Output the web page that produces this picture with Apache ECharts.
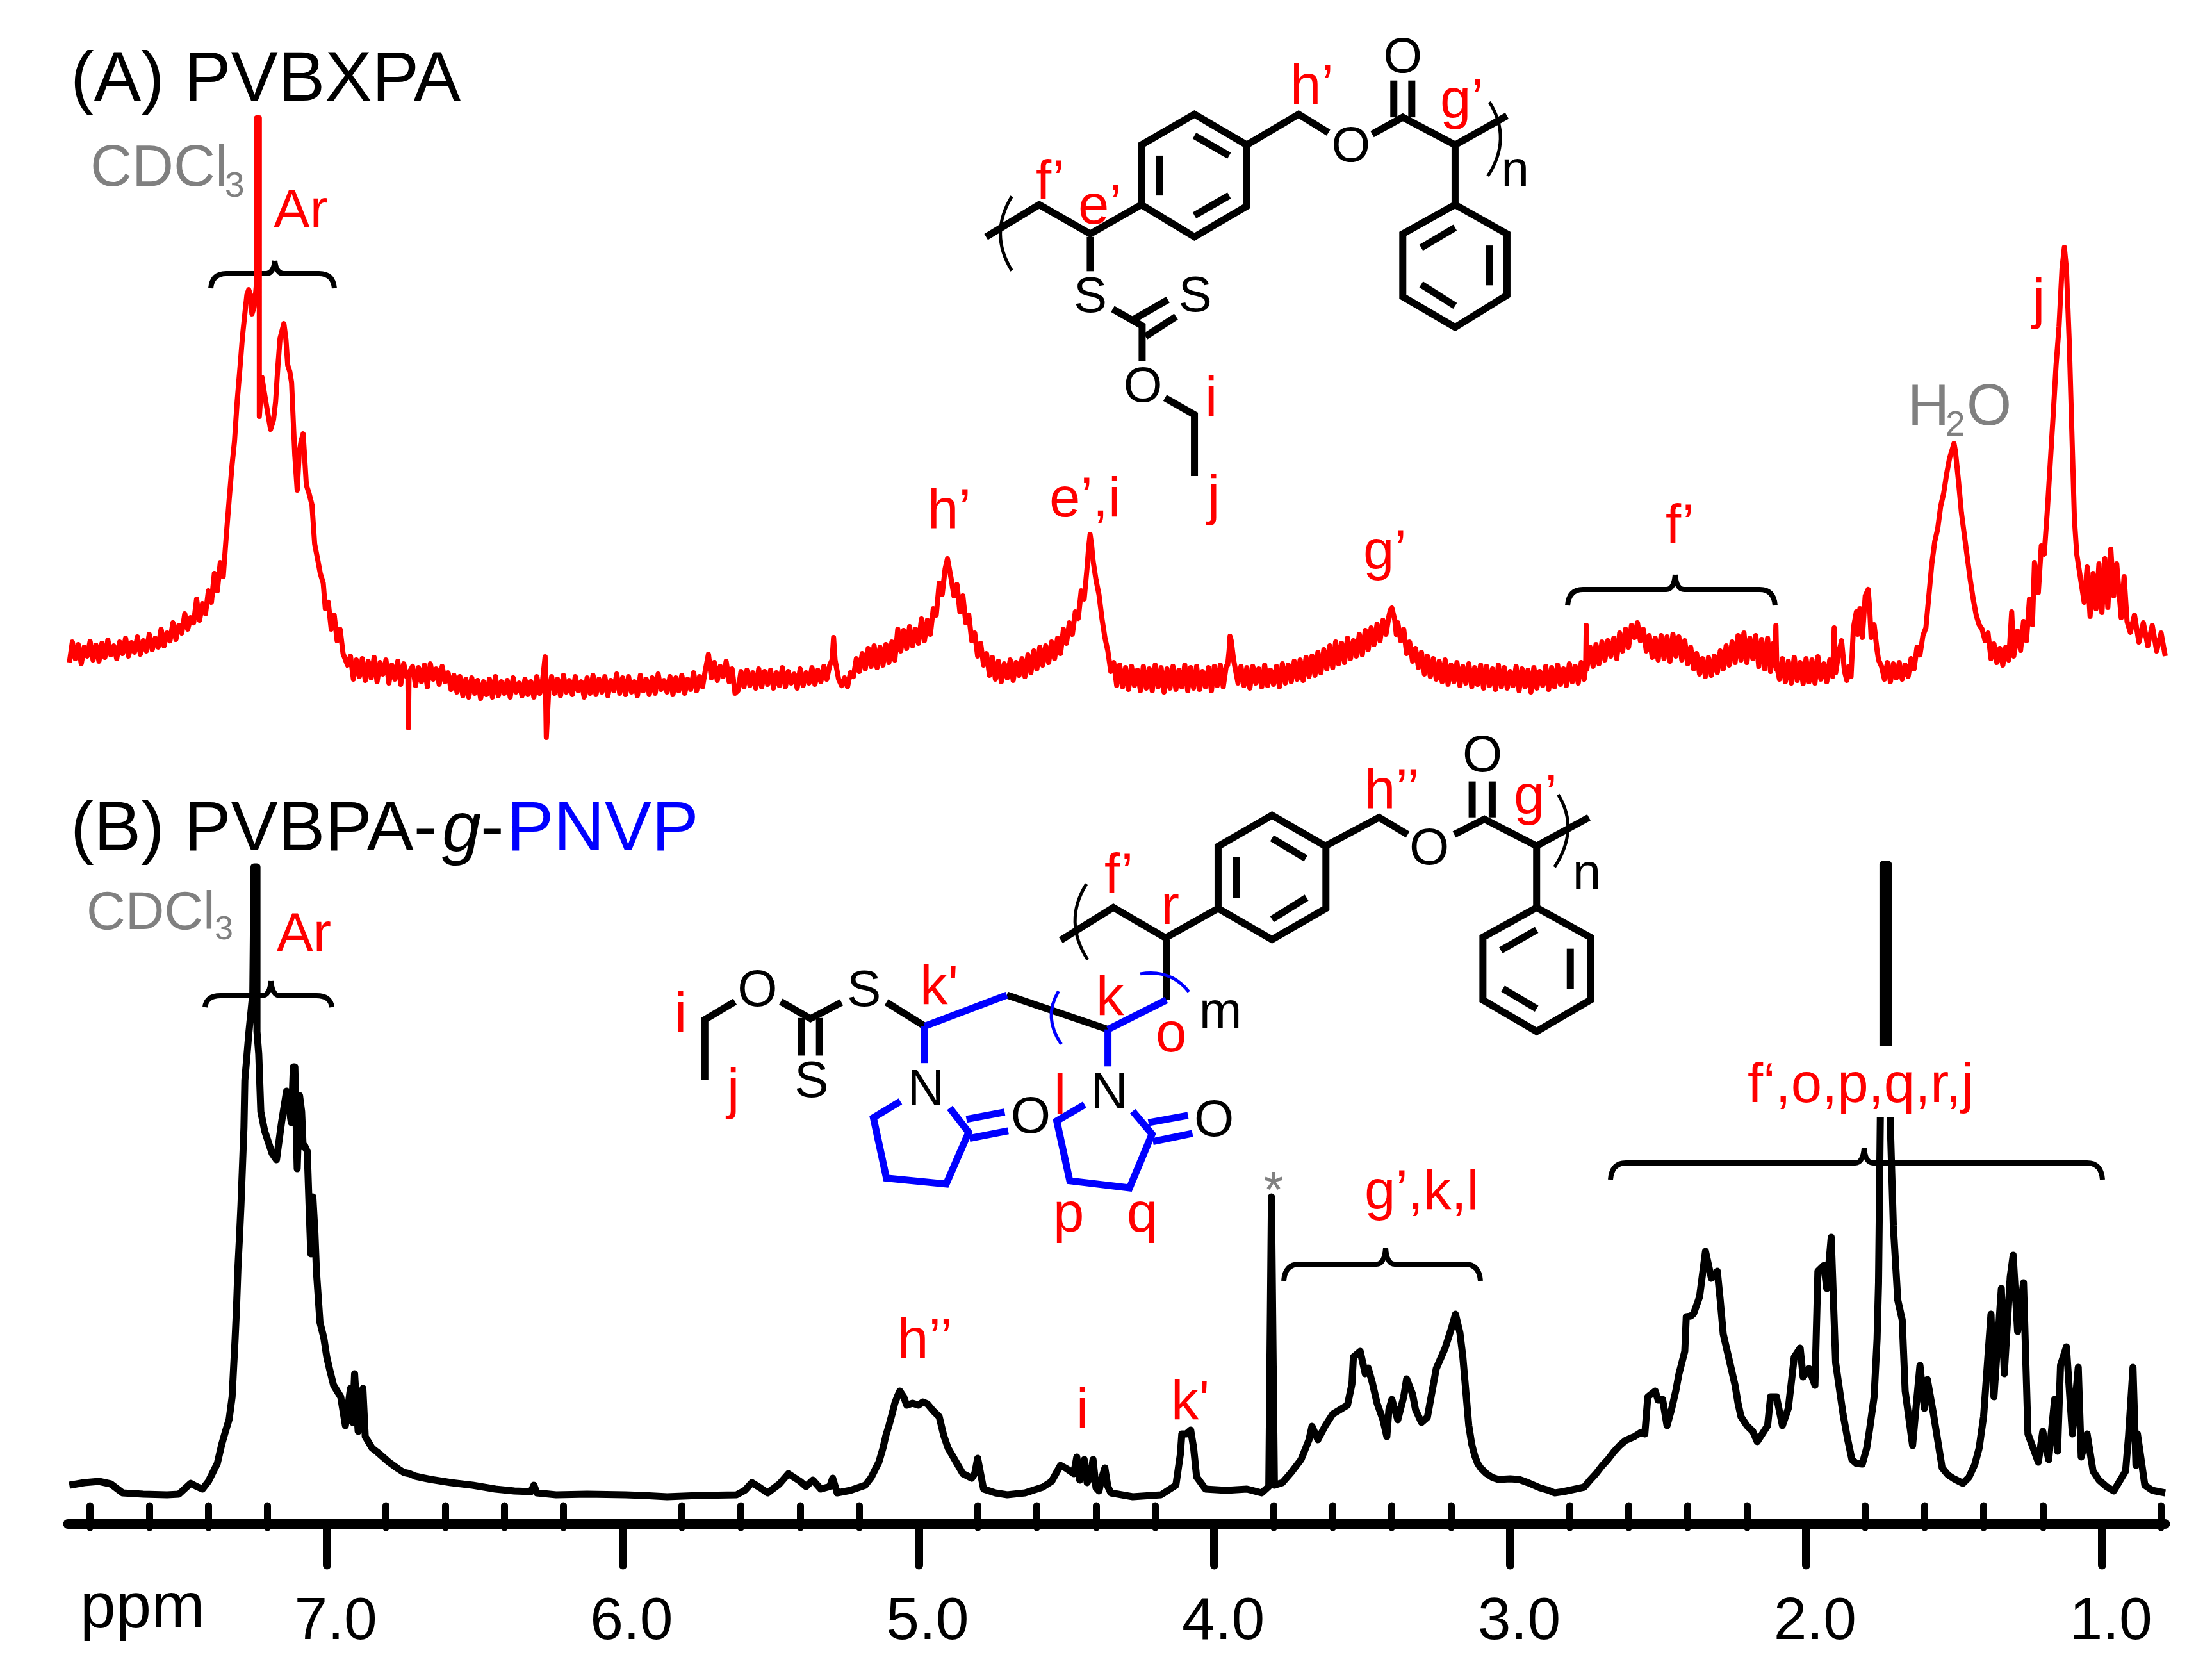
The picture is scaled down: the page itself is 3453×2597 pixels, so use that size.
<!DOCTYPE html>
<html><head><meta charset="utf-8">
<style>html,body{margin:0;padding:0;background:#fff}#c{width:3453px;height:2597px}</style>
<script src="https://cdn.jsdelivr.net/npm/echarts@6/dist/echarts.min.js"></script>
</head><body><div id="c"></div>
<script>
// ---------- data ----------
// noisy stretches of spectrum A: intensities every 0.01 ppm, starting from the named shift
const noiseLeftStart = 7.87;
const noiseLeft = [66,98,72,94,64,90,76,99,70,93,68,96,74,101,78,92,72,98,80,104,76,97,82,106,79,100,84,110,86,104,90,118,92,112,100,128,102,124,112,142,118,136,128,165,132,158,142];
const noiseBase1Start = 6.93;
const noiseBase1 = [62,76,40,70,44,72,38,68,42,74,36,66,48,70,34,62,40,68,32,64,44];
const noiseBase2Start = 6.71;
const noiseBase2 = [60,30,58,36,62,28,64,40,56,32,60,36,50,24,46,20,44,14,40,12,42,18,38,10,36,16,40,12,44,14,36,18,38,12,42,20,34,14,40,16,36,12,44,18];
const noiseBase3Start = 6.24;
const noiseBase3 = [44,18,40,14,46,20,38,16,44,22,36,12,42,18,46,16,40,20,44,14,38,22,48,18,42,16,44,20,36,14,46,22,40,16,42,18,48,24,38,20,44,16,42,22,46,18,40,24,50,22,44,28,55];
const noiseBase4Start = 5.70;
const noiseBase4 = [42,66,38,60,44,68,36,56,18,22,52,28,54,30,50,26,56,28,52,32,54,26,50,30,58,28,52,34,48,26,56,30,50,34,58,32,54,36,60,40,62];
const noiseBase5Start = 5.27;
const noiseBase5 = [40,30,42,28,50,44,72,52,80,56,88,60,92,58,90,62,94,66,98,70];
const noiseMid1Start = 4.74;
const noiseMid1 = [40,68,36,64,42,70,38,66,46,72,44,78,50,84,56,90,62,92,66,98,72,104,80,118,96,128];
const noiseMid2Start = 4.32;
const noiseMid2 = [62,28,58,24,60,30,54,22,60,26,56,22,62,28,58,20,56,26,60,24,54,28,62,22,58,26,60,24,52,28,58,22,60,30,62,28,60];
const noiseMid3Start = 3.91;
const noiseMid3 = [60,30,58,26,60,34,56,28,62,30,54,32,60,28,64,34,62,36,68,40,70,38,74,44,76,46,82];
const noiseMid4Start = 3.64;
const noiseMid4 = [50,86,56,92,58,98,64,96,66,104,72,100,76,110,78,116,86,120,94,126,100,132,110];
const noiseMid5Start = 3.31;
const noiseMid5 = [58,82,48,76,44,72,40,68,36,70,32,62,36,66,30,60,34,64,28,58,32,62,26,60,30,56,24,62,28,58,26,52,30,60,22,56,28,54,20,58,26,52,30,60,24,58,28,62,32,56,30,64,36,60,34,66,40];
const noiseCH2Start = 2.73;
const noiseCH2 = [90,60,94,64,98,70,100,76,104,72,112,84,118,90,124,105,128,100,118,84,108,74,104,70,108,72,106,68,110,76,106,70,100,64,90,56,80,48,72,44,74,46,76,50,84,56,92,62,98,66,108,70,112,66,104,72,108,60,102,56,104,52,96,56];
const noiseRightStart = 2.09;
const noiseRight = [40,72,36,68,34,74,38,66,33,72,36,70,34,75,40,64,36,70,44];

// peaks of spectrum A: [ppm, intensity]
const peakAr = [[7.40,178],[7.39,160],[7.38,205],[7.37,178],[7.36,222],[7.35,200],[7.34,262],[7.33,320],[7.32,375],[7.312,411],[7.303,473],[7.292,534],[7.285,575],[7.277,610],[7.27,640],[7.264,648],[7.258,640],[7.253,610],[7.246,620],[7.24,645],[7.237,660],[7.237,916],[7.228,916],[7.228,450],[7.219,511],[7.212,490],[7.206,473],[7.19,430],[7.18,445],[7.173,473],[7.165,530],[7.158,572],[7.145,595],[7.138,570],[7.132,530],[7.125,520],[7.119,503],[7.113,440],[7.108,389],[7.10,335],[7.093,395],[7.087,411],[7.08,423],[7.074,380],[7.069,343],[7.06,330],[7.05,312],[7.041,251],[7.03,225],[7.022,205],[7.012,190],[7.005,150],[6.995,160],[6.985,118],[6.975,140],[6.965,100],[6.955,118],[6.945,80]];
const spikeA1 = [[6.726,50],[6.724,-36],[6.722,50]];
const spikeA2 = [[6.27,40],[6.262,75],[6.258,-51],[6.25,22]];
const bumpA1 = [[5.71,79]];
const spikeA3 = [[5.292,70],[5.287,105],[5.282,70]];
const peakH = [[5.07,118],[5.06,84],[5.05,116],[5.04,88],[5.03,122],[5.02,92],[5.01,118],[5.00,96],[4.99,134],[4.98,100],[4.97,132],[4.96,110],[4.95,150],[4.94,140],[4.93,190],[4.92,172],[4.91,212],[4.902,228],[4.89,198],[4.88,170],[4.87,188],[4.86,145],[4.85,170],[4.84,128],[4.83,140],[4.82,100],[4.81,112],[4.80,76],[4.79,96],[4.78,62],[4.77,80],[4.76,46],[4.75,74]];
const peakE = [[4.48,110],[4.47,145],[4.46,135],[4.45,178],[4.44,165],[4.43,215],[4.425,245],[4.42,266],[4.415,250],[4.41,225],[4.40,195],[4.39,172],[4.38,135],[4.37,105],[4.36,84],[4.35,52],[4.34,66],[4.33,30]];
const peakSmall = [[3.955,62],[3.95,85],[3.947,107],[3.943,100],[3.935,70],[3.925,46],[3.92,34]];
const peakG = [[3.41,138],[3.405,148],[3.40,151],[3.39,132],[3.385,110],[3.38,128],[3.37,100],[3.36,118],[3.35,80],[3.34,98],[3.33,68],[3.32,88]];
const spikeF = [[2.745,58],[2.743,124],[2.741,56]];
const spikeF2 = [[2.105,70],[2.102,124],[2.099,60]];
const peakWater = [[1.905,120],[1.90,50],[1.89,80],[1.88,100],[1.87,52],[1.862,38],[1.855,60],[1.848,44],[1.84,120],[1.83,145],[1.825,110],[1.818,150],[1.81,105],[1.80,170],[1.79,180],[1.785,150],[1.78,105],[1.77,125],[1.76,85],[1.755,70],[1.745,60],[1.735,40],[1.725,66],[1.715,36],[1.705,64],[1.695,42],[1.685,66],[1.675,40],[1.665,62],[1.655,44],[1.645,72],[1.635,56],[1.625,90],[1.615,78],[1.605,108],[1.595,120],[1.585,170],[1.575,220],[1.565,255],[1.555,275],[1.545,310],[1.535,330],[1.525,360],[1.515,385],[1.505,400],[1.50,408],[1.495,395],[1.485,350],[1.475,300],[1.465,265],[1.455,230],[1.445,195],[1.435,165],[1.425,140],[1.415,125],[1.405,118],[1.395,100],[1.385,112],[1.375,72],[1.365,95],[1.355,66],[1.345,88],[1.335,62],[1.325,90],[1.315,70]];
const peakJ = [[1.305,145],[1.298,76],[1.285,115],[1.275,85],[1.265,130],[1.255,100],[1.245,165],[1.235,125],[1.228,222],[1.215,175],[1.205,248],[1.195,235],[1.185,300],[1.175,375],[1.165,450],[1.155,530],[1.145,590],[1.135,680],[1.127,714],[1.12,680],[1.11,560],[1.10,400],[1.093,290],[1.085,235],[1.075,205],[1.06,160],[1.05,215],[1.04,138],[1.03,205],[1.02,150],[1.01,220],[1.00,144],[0.99,228],[0.98,152],[0.97,243],[0.96,170],[0.95,220],[0.935,136],[0.925,200],[0.915,130],[0.904,113],[0.89,140],[0.875,98],[0.86,128],[0.845,92],[0.83,124],[0.815,84],[0.80,112],[0.786,76]];

// spectrum B: [ppm, intensity]
const blackAromatic = [[7.87,32],[7.82,36],[7.77,38],[7.73,34],[7.69,20],[7.62,18],[7.54,17],[7.50,18],[7.46,35],[7.44,30],[7.42,26],[7.40,38],[7.385,52],[7.37,66],[7.355,96],[7.345,112],[7.33,135],[7.32,170],[7.315,215],[7.31,259],[7.305,310],[7.30,375],[7.295,420],[7.29,470],[7.285,530],[7.28,590],[7.277,664],[7.263,740],[7.25,800],[7.246,800],[7.246,997],[7.236,997],[7.236,740],[7.23,705],[7.223,615],[7.21,585],[7.20,571],[7.185,550],[7.17,540],[7.153,598],[7.136,647],[7.12,598],[7.113,685],[7.108,685],[7.10,526],[7.092,640],[7.085,615],[7.08,560],[7.075,562],[7.066,553],[7.06,470],[7.054,393],[7.047,482],[7.04,425],[7.035,366],[7.023,286],[7.01,262],[7.0,232],[6.99,212],[6.977,188],[6.953,170],[6.937,125],[6.92,183],[6.913,130],[6.906,206],[6.894,116],[6.878,183],[6.87,108],[6.847,90],[6.83,84],[6.81,76],[6.79,68],[6.76,58],[6.74,52],[6.72,50],[6.70,46],[6.67,43],[6.648,41],[6.58,36],[6.507,32],[6.43,26],[6.366,23],[6.31,22],[6.30,32],[6.29,20],[6.225,17],[6.12,18],[5.99,17],[5.93,16],[5.85,14],[5.74,16],[5.615,17],[5.587,24],[5.563,36],[5.535,28],[5.51,20],[5.47,34],[5.44,50],[5.40,38],[5.38,30],[5.357,40],[5.33,26],[5.30,30],[5.29,43],[5.275,20],[5.23,24],[5.18,32],[5.16,44],[5.134,68]];
const blackH = [[5.12,90],[5.11,110],[5.10,125],[5.09,142],[5.08,160],[5.07,172],[5.063,179],[5.05,170],[5.04,157],[5.02,160],[5.0,157],[4.985,162],[4.97,159],[4.95,148],[4.93,139],[4.915,110],[4.90,90],[4.89,82],[4.875,70],[4.86,58],[4.85,50],[4.82,43],[4.81,50],[4.80,74],[4.79,50],[4.78,26],[4.74,20],[4.70,17],[4.64,20],[4.58,29],[4.55,38],[4.52,63],[4.50,58],[4.475,50],[4.465,76],[4.455,40],[4.44,72],[4.43,36],[4.42,44],[4.41,72],[4.40,28],[4.39,23],[4.38,44],[4.37,59],[4.36,30],[4.35,20],[4.276,14],[4.18,17],[4.13,32],[4.115,80],[4.11,112],[4.095,112],[4.08,118],[4.07,90],[4.06,45],[4.03,26],[3.96,24],[3.89,26],[3.84,20],[3.816,30],[3.807,482],[3.806,482],[3.797,32],[3.77,36],[3.74,52],[3.707,72],[3.68,103],[3.67,124],[3.65,103],[3.625,125],[3.6,143],[3.575,150],[3.55,157],[3.535,190],[3.53,232],[3.507,241],[3.49,206],[3.48,215],[3.466,192],[3.45,160],[3.43,134],[3.417,108],[3.41,150],[3.40,166],[3.38,134],[3.36,170],[3.35,198],[3.33,174],[3.32,150],[3.30,130],[3.28,138],[3.25,214],[3.22,246],[3.20,275],[3.185,299],[3.17,270],[3.16,232],[3.14,125],[3.13,96],[3.12,78],[3.11,66],[3.10,59],[3.08,50],[3.06,44],[3.04,41],[3.0,42],[2.97,41],[2.94,36],[2.90,28],[2.87,24],[2.85,20],[2.82,22],[2.80,24],[2.77,27],[2.75,29],[2.73,40],[2.71,50],[2.69,62],[2.67,72],[2.65,84],[2.63,94],[2.61,102],[2.58,108],[2.56,114],[2.545,112]];
const blackAliphatic = [[2.535,170],[2.51,179],[2.50,165],[2.485,166],[2.47,125],[2.455,150],[2.44,180],[2.43,205],[2.41,241],[2.405,295],[2.39,296],[2.38,300],[2.36,326],[2.34,397],[2.32,355],[2.30,366],[2.29,320],[2.28,268],[2.26,228],[2.24,188],[2.23,160],[2.22,139],[2.20,125],[2.18,116],[2.165,100],[2.13,125],[2.12,170],[2.10,170],[2.08,125],[2.06,152],[2.04,232],[2.02,246],[2.01,201],[1.99,214],[1.97,188],[1.96,366],[1.94,375],[1.93,339],[1.915,419],[1.90,223],[1.875,143],[1.86,105],[1.845,72],[1.83,66],[1.81,65],[1.795,90],[1.785,120],[1.77,170],[1.76,260],[1.755,348],[1.749,607],[1.74,718],[1.74,1001],[1.722,1001],[1.722,718],[1.716,607],[1.705,437],[1.69,321],[1.675,290],[1.665,179],[1.64,94],[1.63,145],[1.615,219],[1.60,152],[1.59,197],[1.57,145],[1.54,59],[1.52,48],[1.50,42],[1.47,35],[1.45,44],[1.43,64],[1.415,90],[1.40,139],[1.375,299],[1.365,170],[1.34,339],[1.33,206],[1.31,357],[1.30,391],[1.285,272],[1.265,348],[1.25,112],[1.215,68],[1.20,116],[1.18,72],[1.16,166],[1.15,85],[1.14,219],[1.12,248],[1.10,112],[1.08,216],[1.07,76],[1.05,112],[1.03,54],[1.01,40],[0.985,30],[0.96,23],[0.92,54],[0.91,109],[0.895,216],[0.885,63],[0.88,112],[0.855,32],[0.83,24],[0.786,20]];

const majorTicks = [1,2,3,4,5,6,7];
const minorTicks = [0.8,1.2,1.4,1.6,1.8,2.2,2.4,2.6,2.8,3.2,3.4,3.6,3.8,4.2,4.4,4.6,4.8,5.2,5.4,5.6,5.8,6.2,6.4,6.6,6.8,7.2,7.4,7.6,7.8];

const FONT = '"Liberation Sans", Arial, sans-serif';
const RED='#ff0000', BLUE='#0000ff', BLACK='#000000', GREY='#808080';
const X_MIN=0.786, X_MAX=7.875;
const seq=(start,vals)=>vals.map((v,i)=>[+(start-i*0.01).toFixed(3),v]);

const redData = [].concat(
  seq(noiseLeftStart,noiseLeft),peakAr,seq(noiseBase1Start,noiseBase1),spikeA1,
  seq(noiseBase2Start,noiseBase2),spikeA2,seq(noiseBase3Start,noiseBase3),bumpA1,seq(noiseBase4Start,noiseBase4),spikeA3,
  seq(noiseBase5Start,noiseBase5),peakH,seq(noiseMid1Start,noiseMid1),peakE,seq(noiseMid2Start,noiseMid2),peakSmall,
  seq(noiseMid3Start,noiseMid3),seq(noiseMid4Start,noiseMid4),peakG,seq(noiseMid5Start,noiseMid5),spikeF,
  seq(noiseCH2Start,noiseCH2),spikeF2,seq(noiseRightStart,noiseRight),peakWater,peakJ);

// ---------- annotation helpers (page pixels) ----------
const g=[];
function T(s,x,base,size,color,style){g.push({type:'text',z:100,silent:true,style:{text:s,x:x,y:base-0.29*size,fill:color||BLACK,font:(style?style+' ':'')+size+'px '+FONT,align:'left',verticalAlign:'middle'}});}
function C(s,x,y,size,color){g.push({type:'text',z:100,silent:true,style:{text:s,x:x,y:y+4,fill:color||BLACK,font:size+'px '+FONT,align:'center',verticalAlign:'middle'}});}
function L(points,color,w){g.push({type:'polyline',z:60,silent:true,shape:{points:points},style:{stroke:color||BLACK,lineWidth:w||11,fill:'none',lineJoin:'miter',miterLimit:4}});}
function Q(a,c,b,color,w){g.push({type:'bezierCurve',z:60,silent:true,shape:{x1:a[0],y1:a[1],x2:b[0],y2:b[1],cpx1:c[0],cpy1:c[1]},style:{stroke:color||BLACK,lineWidth:w||5,fill:'none'}});}
function brace(x0,x1,tipX,tipY,barY,endY){
  const w=8;
  const seg=(a,c,b)=>g.push({type:'bezierCurve',z:1,silent:true,shape:{x1:a[0],y1:a[1],x2:b[0],y2:b[1],cpx1:c[0],cpy1:c[1]},style:{stroke:BLACK,lineWidth:w,fill:'none'}});
  const lin=(a,b)=>g.push({type:'line',z:1,silent:true,shape:{x1:a[0],y1:a[1],x2:b[0],y2:b[1]},style:{stroke:BLACK,lineWidth:w}});
  seg([x0,endY],[x0+2,barY],[x0+24,barY]);
  lin([x0+24,barY],[tipX-14,barY]);
  seg([tipX-14,barY],[tipX-2,barY],[tipX,tipY]);
  seg([tipX,tipY],[tipX+2,barY],[tipX+14,barY]);
  lin([tipX+14,barY],[x1-24,barY]);
  seg([x1-24,barY],[x1-2,barY],[x1,endY]);
}
const z6=(x,y)=>[1450+x/1.568,30+y/2.09];
const z5=(x,y)=>[1000+x/1.4255,1150+y/1.96];
const z4=(x,y)=>[1700+x/0.8945,1200+y/1.1224];
const P=(f,a)=>{const o=[];for(let i=0;i<a.length;i+=2)o.push(f(a[i],a[i+1]));return o;};

// ---------- structure A ----------
[[140,710,270,605,395,700,520,605,520,410,650,310,778,410,778,610,650,710,520,605],
 [565,445,565,575],[650,380,735,445],[650,640,735,575],
 [778,410,905,310,978,370],[1085,375,1160,320,1288,410,1415,315],
 [1138,200,1138,320],[1182,200,1182,320],[1288,410,1288,605],
 [1288,605,1415,700,1415,900,1288,1005,1160,905,1160,700,1288,605],
 [1205,745,1288,680],[1372,738,1372,868],[1205,865,1288,935],
 [395,710,395,822],[450,945,522,1000,522,1115],[500,980,585,915],[530,1035,605,970],
 [578,1235,650,1290,650,1490]].forEach(a=>L(P(z6,a)));
Q(z6(203,578),z6(147,700),z6(203,820));
Q(z6(1372,270),z6(1428,390),z6(1368,512));
[['O',1160,120],['O',1033,410],['S',395,902],['S',652,900],['O',524,1195],['n',1435,490]].forEach(t=>{const p=z6(t[1],t[2]);C(t[0],p[0],p[1],78);});

// ---------- structure B ----------
[[143,1050,143,865,210,810],[312,810,378,862,447,812],[358,975,358,860],[398,975,398,860],[547,812,632,885],
 [815,790,1040,895],[1170,805,1170,620],
 [935,622,1052,522,1168,615,1285,525,1285,335,1405,240,1525,335,1525,525,1405,620,1285,525],
 [1326,368,1326,493],[1405,310,1480,372],[1405,558,1482,492]].forEach(a=>L(P(z5,a)));
[[632,885,815,790],[1040,895,1170,805],[632,885,632,998],[1040,895,1040,1008],
 [578,1115,518,1165,547,1350,680,1368,730,1210,688,1135],[725,1170,810,1148],[732,1228,818,1205],
 [988,1125,926,1175,955,1358,1088,1380,1138,1215,1095,1145],[1130,1180,1218,1158],[1140,1238,1228,1213]].forEach(a=>L(P(z5,a),BLUE));
[[330,135,405,85,445,115],[510,115,552,88,625,135,698,85],[535,22,535,85],[563,22,563,85],[625,135,625,243],
 [625,243,700,295,700,405,625,460,550,405,550,295,625,243],[575,318,625,282],[672,315,672,385],[578,385,625,420]].forEach(a=>L(P(z4,a)));
Q(z5(992,450),z5(940,565),z5(995,682));
Q(z5(930,778),z5(895,858),z5(936,940),BLUE);
Q(z5(1112,725),z5(1180,710),z5(1220,780),BLUE);
Q(z4(655,45),z4(685,105),z4(650,172));
[['O',260,772],['S',497,772],['S',380,1050],['N',635,1075],['O',868,1160],['N',1043,1085],['O',1276,1170],['m',1290,838]].forEach(t=>{const p=z5(t[1],t[2]);C(t[0],p[0],p[1],80);});
C('O',2314,1178,80);C('O',2231,1323,80);C('n',2477,1362,80);

// ---------- braces ----------
brace(329,522,429,407,427,450);
brace(2447,2771,2615,897,920,945);
brace(320,518,423,1531,1554,1572);
brace(2004,2311,2163,1948,1973,1999);
brace(2514,3282,2910,1792,1815,1841);

// ---------- gap in the tall peak under its label ----------
g.push({type:'rect',z:50,silent:true,shape:{x:2920,y:1632,width:45,height:111},style:{fill:'#fff'}});

// ---------- labels ----------
T('(A) PVBXPA',110,159,110);
T('(B) PVBPA-',110,1329,110);T('g',690,1329,110,BLACK,'italic');T('-',750,1329,110);T('PNVP',791,1329,110,BLUE);
T('CDCl',141,291,90,GREY);T('3',351,308,55,GREY);
T('CDCl',135,1451,84,GREY);T('3',335,1467,52,GREY);
T('Ar',427,356,85,RED);T('Ar',432,1485,85,RED);
T('H',2978,664,90,GREY);T('2',3037,681,55,GREY);T('O',3070,664,90,GREY);
[['h’',1448,825],['e’,i',1638,807],['j',1885,803],['g’',2128,889],['f’',2600,849],['j',3173,497],
 ['f’',1617,312],['e’',1683,350],['h’',2014,163],['g’',2248,185],['i',1881,650],
 ['i',1053,1611],['j',1135,1730],['k\'',1436,1568],['k',1711,1585],['f’',1724,1394],['r',1812,1443],['o',1804,1642],['l',1645,1739],['p',1644,1923],['q',1759,1923],
 ['h’’',2130,1262],['g’',2363,1271],['f‘,o,p,q,r,j',2728,1721],['g’,k,l',2130,1888],['k\'',1828,2216],['h’’',1401,2120],['i',1680,2229]
].forEach(t=>T(t[0],t[1],t[2],87,RED));
C('*',1988,1858,80,GREY);
T('ppm',125,2541,100);

// ---------- chart ----------
const chart=echarts.init(document.getElementById('c'),null,{width:3453,height:2597});
chart.setOption({
  animation:false,backgroundColor:'#fff',
  grid:[{left:106,width:3274,top:160,height:1020},{left:106,width:3274,top:1300,height:1078}],
  xAxis:[
    {type:'value',gridIndex:0,inverse:true,min:X_MIN,max:X_MAX,show:false},
    {type:'value',gridIndex:1,inverse:true,min:X_MIN,max:X_MAX,position:'bottom',splitLine:{show:false},
     axisLine:{onZero:false,lineStyle:{color:BLACK,width:15}},
     axisTick:{show:true,customValues:majorTicks,length:65,lineStyle:{color:BLACK,width:13,cap:'round'}},
     axisLabel:{show:true,customValues:majorTicks,formatter:v=>Number(v).toFixed(1),margin:108,padding:[0,0,0,28],color:BLACK,fontFamily:'Liberation Sans',fontSize:93}},
    {type:'value',gridIndex:1,inverse:true,min:X_MIN,max:X_MAX,position:'bottom',splitLine:{show:false},
     axisLine:{show:false},
     axisTick:{show:true,customValues:minorTicks,length:34,lineStyle:{color:BLACK,width:11,cap:'round'}},
     axisLabel:{show:false}}
  ],
  yAxis:[
    {type:'value',gridIndex:0,min:-80,max:940,show:false},
    {type:'value',gridIndex:1,min:-28,max:1050,show:false}
  ],
  series:[
    {type:'line',xAxisIndex:0,yAxisIndex:0,z:5,showSymbol:false,silent:true,clip:false,lineStyle:{color:RED,width:8,join:'round'},
     data:redData},
    {type:'line',xAxisIndex:1,yAxisIndex:1,z:5,showSymbol:false,silent:true,clip:false,lineStyle:{color:BLACK,width:11,join:'round'},
     data:blackAromatic.concat(blackH,blackAliphatic)}
  ],
  graphic:{elements:g}
});
</script></body></html>
